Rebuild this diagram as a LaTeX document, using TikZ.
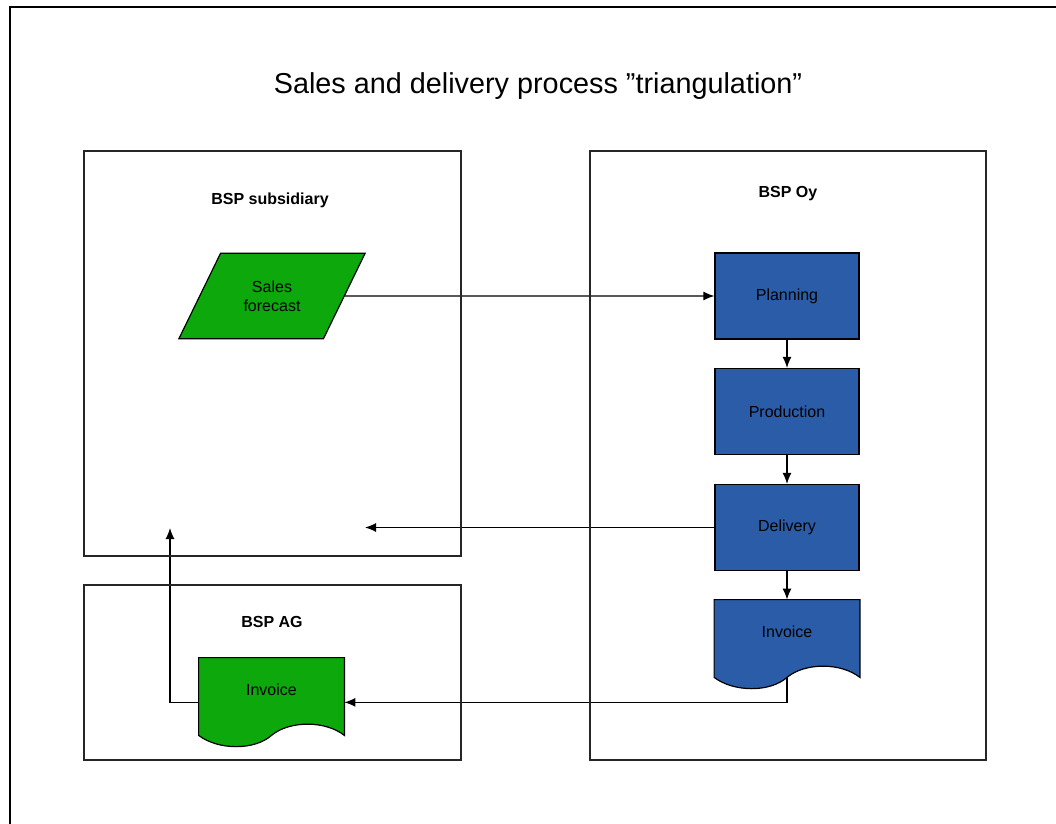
\documentclass[tikz,border=0pt]{standalone}
\usepackage{fontspec}
\setmainfont{Liberation Sans}
\usetikzlibrary{shapes.geometric,arrows.meta,backgrounds,calc}
\definecolor{formgreen}{RGB}{12,168,12}
\definecolor{stepblue}{RGB}{42,92,168}
\tikzset{
  frame/.style={draw=black!85,line width=0.8pt},
  flow/.style={-{Latex[length=5.5pt,width=4.5pt]},line width=0.6pt},
  company/.style={font=\fontsize{8}{9.5}\selectfont\bfseries},
  task/.style={draw,line width=0.6pt,fill=stepblue,minimum width=72pt,minimum height=43pt,font=\fontsize{8}{9.5}\selectfont},
  doc/.style={minimum width=72.5pt,minimum height=31.5pt,font=\fontsize{8}{9.5}\selectfont},
  forecastbox/.style={trapezium,trapezium left angle=64,trapezium right angle=116,
    inner xsep=11.5pt,inner ysep=13.65pt,draw,line width=0.6pt,fill=formgreen,align=center,
    font=\fontsize{8}{9.5}\selectfont},
}
% document symbol: straight top, sides run 14 units below the node, wavy bottom
\newcommand\drawdoc[2]{%
  \draw[fill=#2,line width=0.6pt] (#1.north west) -- (#1.north east) -- ($(#1.south east)+(0,14)$)
    .. controls ($(#1.south east)+(-19,-1)$) and ($(#1.south)+(18,-1)$) .. ($(#1.south)+(0,14)$)
    .. controls ($(#1.south)+(-17,29)$) and ($(#1.south west)+(20,29)$) .. ($(#1.south west)+(0,14)$) -- cycle;}
\begin{document}
\begin{tikzpicture}[x=0.5pt,y=-0.5pt]
  \useasboundingbox (0,0) rectangle (1056,824);
  \draw[line width=1pt] (10,824) -- (10,7) -- (1056,7);
  \node[font=\fontsize{14.4}{17}\selectfont] (title) at (538,86) {Sales and delivery process ”triangulation”};

  % the three companies
  \draw[frame] (84,151) rectangle (461,556);
  \draw[frame] (84,585) rectangle (461,760);
  \draw[frame] (590,151) rectangle (986,760);
  \node[company] (subsidiary) at (270,200) {BSP subsidiary};
  \node[company] (ag) at (272,622) {BSP AG};
  \node[company] (oy) at (788,194) {BSP Oy};

  \node[forecastbox] (forecast) at (272,296) {Sales\\forecast};
  \node[task] (planning) at (787,296) {Planning};
  \node[task] (production) at (787,411.5) {Production};
  \node[task] (delivery) at (787,527.5) {Delivery};
  \node[doc] (invoiceoy) at (787,631.5) {Invoice};
  \node[doc] (invoiceag) at (271.5,689.5) {Invoice};
  \coordinate (goodsin) at (365,527.5);
  \coordinate (invoicein) at (170,528);

  \begin{scope}[on background layer]
    \draw[flow] (forecast.east) -- (planning.west);
    \draw[flow] (planning) -- (production);
    \draw[flow] (production) -- (delivery);
    \draw[flow] (delivery) -- (invoiceoy.north);
    \draw[flow] (delivery.west) -- (goodsin);
    \draw[flow] (invoiceoy.south) |- (invoiceag.-10);
    \draw[flow] (invoiceag.190) -| (invoicein);
    \drawdoc{invoiceoy}{stepblue}
    \drawdoc{invoiceag}{formgreen}
  \end{scope}
\end{tikzpicture}
\end{document}
